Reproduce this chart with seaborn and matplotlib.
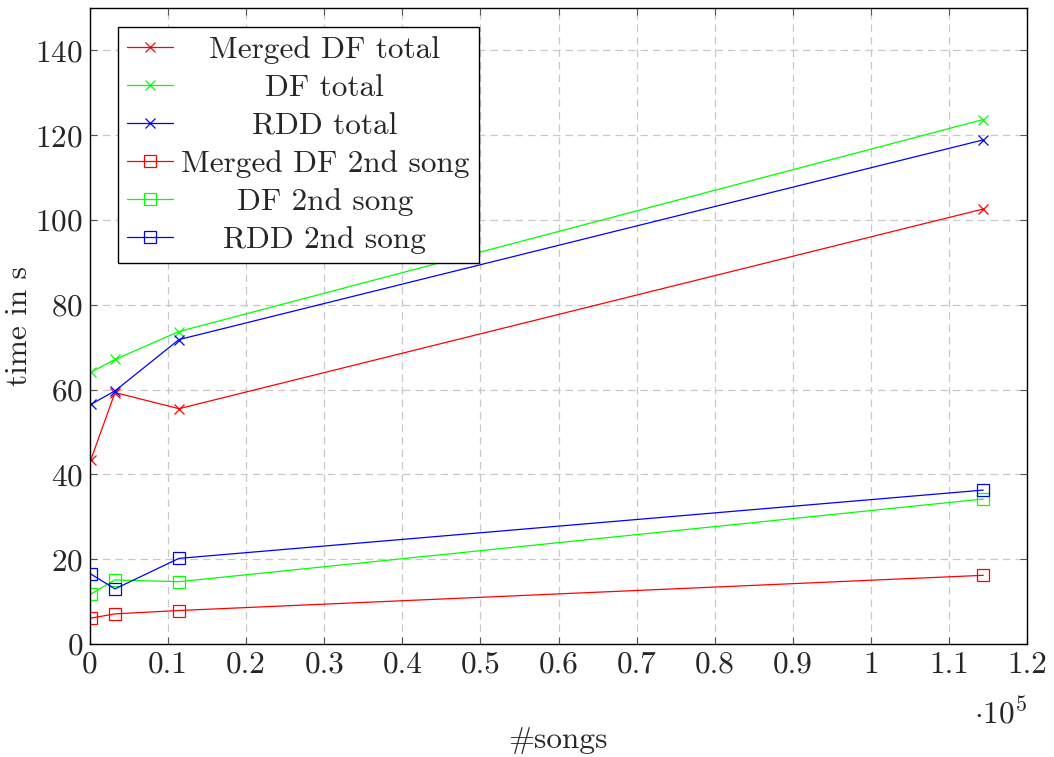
import matplotlib
matplotlib.use("Agg")
import pandas as pd
import seaborn as sns
import matplotlib.pyplot as plt
from matplotlib.ticker import FuncFormatter, MultipleLocator

songs = [100, 3200, 11400, 114400]
merged_total = [43.4, 59.3, 55.5, 102.6]
df_total = [64.1, 67.1, 73.7, 123.7]
rdd_total = [56.5, 59.7, 71.8, 118.9]
merged_2nd = [6.1, 7.1, 7.9, 16.2]
df_2nd = [11.8, 15.1, 14.7, 34.2]
rdd_2nd = [16.5, 13.0, 20.2, 36.3]

labels = ['Merged DF total', 'DF total', 'RDD total',
          'Merged DF 2nd song', 'DF 2nd song', 'RDD 2nd song']
series = [merged_total, df_total, rdd_total, merged_2nd, df_2nd, rdd_2nd]
colors = ['#ff0000', '#00ff00', '#0000ff'] * 2
markers = ['x'] * 3 + ['s'] * 3

FS = 22.5

sns.set_style("ticks")
plt.rcParams['font.family'] = ['cmr10', 'DejaVu Serif']
plt.rcParams['mathtext.fontset'] = 'cm'
plt.rcParams['axes.formatter.use_mathtext'] = True

fig = plt.figure(figsize=(10.54, 7.57), dpi=100)
ax = fig.add_axes([90 / 1054, 1 - 644 / 757, (1027 - 90) / 1054, (644 - 8) / 757])

for lab, vals, c, m in zip(labels, series, colors, markers):
    d = pd.DataFrame({'songs': songs, 'time': vals})
    sns.lineplot(data=d, x='songs', y='time', ax=ax, color=c, marker=m,
                 linewidth=0.9, markersize=7 if m == 'x' else 9,
                 markerfacecolor='none' if m == 's' else c,
                 markeredgecolor=c, markeredgewidth=0.9, label=lab)

ax.set_xlim(0, 120000)
ax.set_ylim(0, 150)
ax.xaxis.set_major_locator(MultipleLocator(10000))
ax.yaxis.set_major_locator(MultipleLocator(20))
ax.xaxis.set_major_formatter(FuncFormatter(lambda v, p: '%g' % round(v / 1e5, 2)))
ax.grid(True, linestyle=(0, (6, 4)), color='#c8c8c8', linewidth=0.9)
ax.tick_params(direction='in', top=True, right=True, labelsize=FS,
               length=5, color='#555555', pad=5)
for s in ax.spines.values():
    s.set_linewidth(1.0)
    s.set_color('black')

ax.set_xlabel('#songs', fontsize=FS, labelpad=34)
ax.set_ylabel('time in s', fontsize=FS, labelpad=2)
ax.text(1.0, -0.1085, r'$\cdot 10^5$', transform=ax.transAxes,
        ha='right', va='center', fontsize=FS)

leg = ax.legend(loc='upper left', bbox_to_anchor=(0.0299, 0.970), fontsize=FS,
                frameon=True, fancybox=False, edgecolor='black',
                handlelength=1.45, handletextpad=0.25, borderpad=0.3,
                labelspacing=0.32, borderaxespad=0)
leg.get_frame().set_linewidth(1.0)
leg.get_frame().set_alpha(1)

# pgfplots centres the legend entries; shift each text to the middle
fig.canvas.draw()
r = fig.canvas.get_renderer()
widths = [t.get_window_extent(r).width for t in leg.get_texts()]
wmax = max(widths)
for t, w in zip(leg.get_texts(), widths):
    t.set_x((wmax - w) / 2)

fig.savefig('out.png', dpi=100)
